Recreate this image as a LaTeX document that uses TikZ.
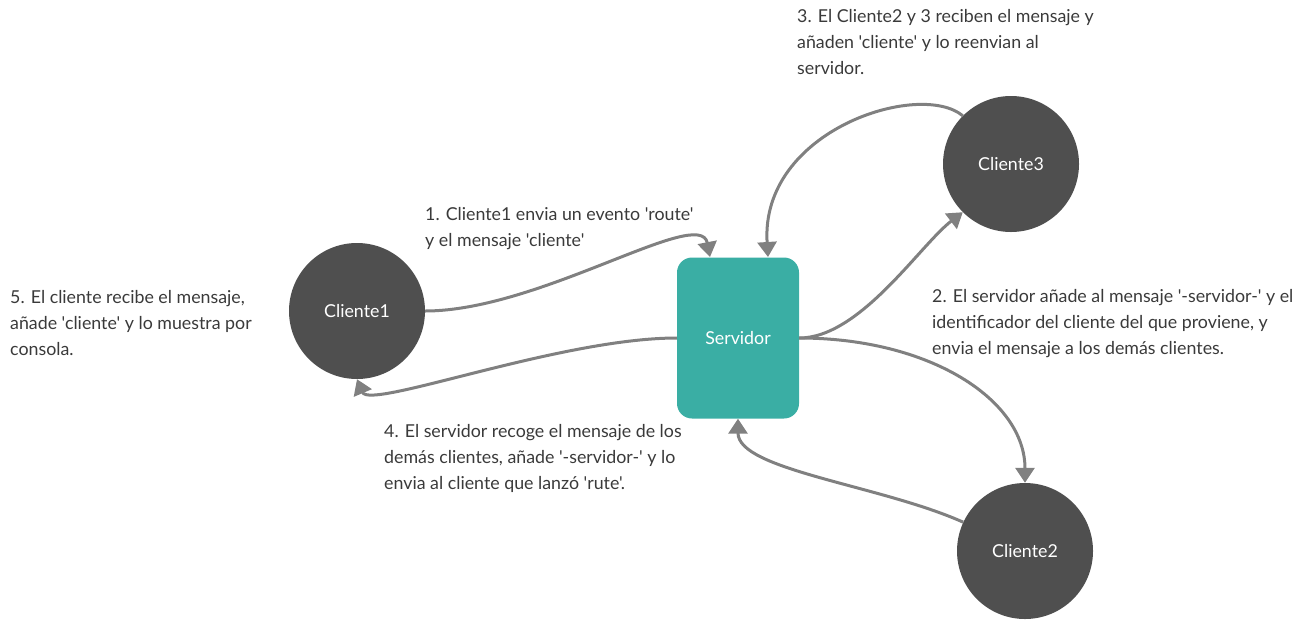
\documentclass[tikz,border=0pt]{standalone}
\usepackage{fontspec}
\setmainfont{Lato}[Ligatures=TeXOff]
\usetikzlibrary{arrows.meta}
\definecolor{teal1}{HTML}{3AAEA4}
\definecolor{dark1}{HTML}{4F4F4F}
\definecolor{arr}{HTML}{808080}
\definecolor{txt}{HTML}{3A3A3A}
\begin{document}
\begin{tikzpicture}[x=1pt,y=-1pt,
  client/.style={circle,fill=dark1,draw=none,minimum size=136pt,inner sep=0pt,text=white,font=\fontsize{17.8}{20}\selectfont},
  server/.style={rectangle,rounded corners=15pt,fill=teal1,draw=none,minimum width=122pt,minimum height=161pt,text=white,font=\fontsize{17.8}{20}\selectfont},
  conn/.style={draw=arr,line width=3pt,-{Triangle[length=15pt,width=19pt]}},
  note/.style={anchor=north west,inner sep=0pt,align=left,text=txt,font=\fontsize{17.8}{26}\selectfont}]
\useasboundingbox (0,0) rectangle (1305,619);
\node[client] (c1) at (357,311) {Cliente1};
\node[client] (c3) at (1011,164) {Cliente3};
\node[client] (c2) at (1025,551) {Cliente2};
\node[server] (s) at (738,338) {Servidor};
\coordinate (s1) at (710,257);
\coordinate (s3) at (768,257);
\draw[conn] (c1.east) .. controls (540,311) and (700,205) .. (s1);
\draw[conn] (s.east) .. controls (860,338) and (920,245) .. (c3.225);
\draw[conn] (c3.135) .. controls (920,80) and (760,130) .. (s3);
\draw[conn] (s.east) .. controls (930,338) and (1025,400) .. (c2.north);
\draw[conn] (c2.155) .. controls (880,485) and (738,470) .. (s.south);
\draw[conn] (s.west) .. controls (560,338) and (370,410) .. (c1.south);
\node[note] (t3) at (797,9) {3. El Cliente2 y 3 reciben el mensaje y\\añaden 'cliente' y lo reenvian al\\servidor.};
\node[note] (t1) at (425,207) {1. Cliente1 envia un evento 'route'\\y el mensaje 'cliente'};
\node[note] (t5) at (10,290) {5. El cliente recibe el mensaje,\\añade 'cliente' y lo muestra por\\consola.};
\node[note] (t2) at (932,289) {2. El servidor añade al mensaje '-servidor-' y el\\identificador del cliente del que proviene, y\\envia el mensaje a los demás clientes.};
\node[note] (t4) at (384,424) {4. El servidor recoge el mensaje de los\\demás clientes, añade '-servidor-' y lo\\envia al cliente que lanzó 'rute'.};
\end{tikzpicture}
\end{document}
